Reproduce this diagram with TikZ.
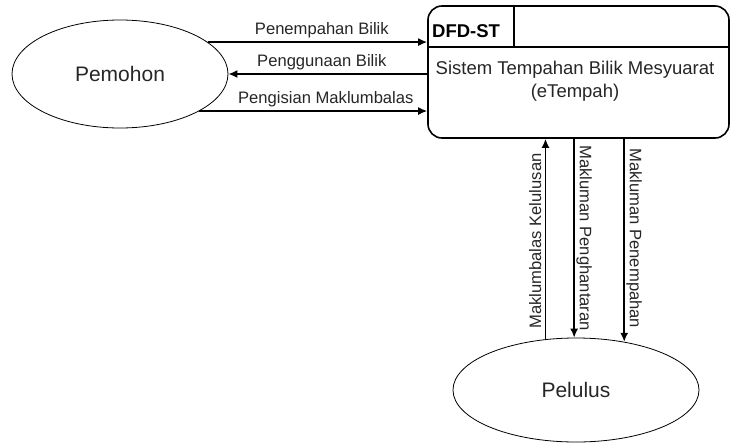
\documentclass[tikz,border=0pt]{standalone}
\usepackage{fontspec}
\setmainfont{Liberation Sans}
\usetikzlibrary{shapes.geometric,arrows.meta,calc}
\begin{document}
\begin{tikzpicture}[x=1pt,y=-1pt,
  ent/.style={ellipse,draw,line width=0.8pt,inner sep=0pt,font=\fontsize{21}{25}\selectfont,text=black!85},
  arr/.style={line width=1.6pt,-{Latex[length=9pt,width=8pt]}},
  lbl/.style={font=\fontsize{16.6}{20}\selectfont,text=black!85,inner sep=1.5pt}]
\useasboundingbox (0,0) rectangle (732,445);
\node[ent,minimum width=216pt,minimum height=108pt] (pem) at (120,74) {Pemohon};
\node[ent,minimum width=246pt,minimum height=104pt] (pel) at (576,390) {Pelulus};
\node[draw,line width=1.6pt,rounded corners=14pt,minimum width=301pt,minimum height=132pt,inner sep=0pt] (sys) at (578.5,72) {};
\draw[line width=1.6pt] (sys.west |- 0,47) coordinate (hl) -- (hl -| sys.east);
\draw[line width=1.6pt] (514,0 |- sys.north) coordinate (dv) -- (dv |- hl);
\node[font=\fontsize{18.5}{22}\selectfont\bfseries,anchor=west,inner sep=0pt] (dfd) at (432,31) {DFD-ST};
\node[font=\fontsize{18.5}{23}\selectfont,align=center,text=black!85] (title) at (575,81) {Sistem Tempahan Bilik Mesyuarat\\(eTempah)};
% horizontal flows
\draw[arr] (pem.20) -- node[lbl,pos=0.52,above=2pt] {Penempahan Bilik} (pem.20 -| sys.west);
\draw[arr] (pem.east -| sys.west) -- node[lbl,pos=0.53,above=2pt] {Penggunaan Bilik} (pem.east);
\draw[arr] (pem.-25) -- node[lbl,pos=0.555,above=2pt] {Pengisian Maklumbalas} (pem.-25 -| sys.west);
% vertical flows
\draw[arr] (pel.121) -- node[lbl,pos=0.49,rotate=90,above=2pt,anchor=south] {Maklumbalas Kelulusan} (pel.121 |- sys.south);
\draw[arr] (pel.92 |- sys.south) -- node[lbl,pos=0.5,rotate=-90,anchor=south] {Makluman Penghantaran} (pel.92);
\draw[arr] (pel.45 |- sys.south) -- node[lbl,pos=0.49,rotate=-90,anchor=south] {Makluman Penempahan} (pel.45);
\end{tikzpicture}
\end{document}
